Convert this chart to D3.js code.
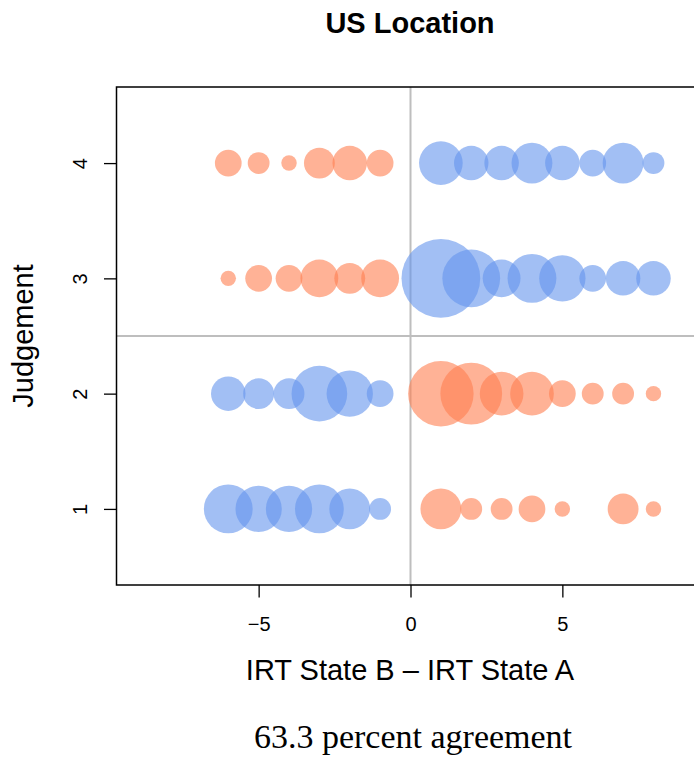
<!DOCTYPE html>
<html>
<head>
<meta charset="utf-8">
<script src="https://cdn.jsdelivr.net/npm/d3@7"></script>
<style>
  body { margin: 0; background: #fff; }
</style>
</head>
<body>
<div id="chart"></div>
<script>
// IRT score difference (State B - State A) on x, judgement category on y
const diffs = [-6, -5, -4, -3, -2, -1, 1, 2, 3, 4, 5, 6, 7, 8];
const judgements = [1, 2, 3, 4];
// number of cases at each difference, one array per judgement
const judge1 = [10, 9, 9, 10, 7, 2, 7, 2, 2, 3, 1, 0, 4, 1];
const judge2 = [5, 4, 4, 13, 9, 3, 18, 16, 8, 8, 3, 2, 2, 1];
const judge3 = [1, 3, 3, 6, 4, 6, 26, 14, 6, 10, 9, 3, 5, 5];
const judge4 = [3, 2, 1, 4, 5, 3, 8, 5, 5, 7, 5, 3, 7, 2];
const xTicks = [-5, 0, 5];

const width = 694, height = 759;
const plot = { left: 116.5, right: 704.5, top: 87, bottom: 585 };

const counts = [judge1, judge2, judge3, judge4];
const points = [];
judgements.forEach((j, i) => {
  diffs.forEach((d, k) => {
    const n = counts[i][k];
    if (n > 0) points.push({ x: d, y: j, n: n, agree: (j >= 3) === (d > 0) });
  });
});

const total = d3.sum(points, p => p.n);
const agreed = d3.sum(points.filter(p => p.agree), p => p.n);
const pct = (100 * agreed / total).toFixed(1);

const svg = d3.select("#chart").append("svg")
  .attr("width", width)
  .attr("height", height)
  .style("font-family", "'Liberation Sans', Arial, sans-serif");

const x = d3.scaleLinear().domain([-9.68, 9.68]).range([plot.left, plot.right]);
const y = d3.scaleLinear().domain([0.34, 4.66]).range([plot.bottom, plot.top]);
const maxN = d3.max(points, p => p.n);
const r = d3.scaleSqrt().domain([0, maxN]).range([0, 7.72 * Math.sqrt(maxN)]);

svg.append("defs").append("clipPath").attr("id", "plotclip")
  .append("rect")
  .attr("x", plot.left).attr("y", plot.top)
  .attr("width", plot.right - plot.left).attr("height", plot.bottom - plot.top);

// reference lines
svg.append("line")
  .attr("x1", x(0)).attr("x2", x(0))
  .attr("y1", plot.top).attr("y2", plot.bottom)
  .attr("stroke", "#bebebe").attr("stroke-width", 2);
svg.append("line")
  .attr("x1", plot.left).attr("x2", plot.right)
  .attr("y1", y(2.5)).attr("y2", y(2.5))
  .attr("stroke", "#bebebe").attr("stroke-width", 2);

// bubbles
svg.append("g").attr("clip-path", "url(#plotclip)")
  .selectAll("circle")
  .data(points)
  .join("circle")
  .attr("cx", d => x(d.x))
  .attr("cy", d => y(d.y))
  .attr("r", d => r(d.n))
  .attr("fill", d => d.agree ? "#6495ED" : "#FF7F50")
  .attr("fill-opacity", 0.6);

// box
svg.append("rect")
  .attr("x", plot.left).attr("y", plot.top)
  .attr("width", plot.right - plot.left).attr("height", plot.bottom - plot.top)
  .attr("fill", "none").attr("stroke", "#000").attr("stroke-width", 1.5);

// x axis
const xAxis = svg.append("g")
  .attr("transform", `translate(0,${plot.bottom})`)
  .call(d3.axisBottom(x).tickValues(xTicks).tickSize(12.5).tickPadding(19)
    .tickFormat(d => d < 0 ? "\u2212" + Math.abs(d) : d));
xAxis.select(".domain").remove();
xAxis.selectAll("line").attr("stroke-width", 1.3);
xAxis.selectAll("text").attr("font-size", 20).attr("font-family", null).attr("fill", "#000");

// y axis
const yAxis = svg.append("g")
  .attr("transform", `translate(${plot.left},0)`)
  .call(d3.axisLeft(y).tickValues(judgements).tickSize(12.5).tickFormat(d3.format("d")));
yAxis.select(".domain").remove();
yAxis.selectAll("line").attr("stroke-width", 1.3);
yAxis.selectAll("text")
  .attr("x", null).attr("dy", null)
  .attr("transform", "translate(-30,0) rotate(-90)")
  .attr("text-anchor", "middle")
  .attr("font-size", 20).attr("font-family", null).attr("fill", "#000");

// titles
svg.append("text")
  .attr("x", 410).attr("y", 33)
  .attr("text-anchor", "middle")
  .attr("font-size", 29).attr("font-weight", "bold")
  .text("US Location");

svg.append("text")
  .attr("x", 410).attr("y", 680)
  .attr("text-anchor", "middle")
  .attr("font-size", 29)
  .text("IRT State B \u2013 IRT State A");

svg.append("text")
  .attr("transform", `translate(33,${(plot.top + plot.bottom) / 2}) rotate(-90)`)
  .attr("text-anchor", "middle")
  .attr("font-size", 29)
  .text("Judgement");

svg.append("text")
  .attr("x", 413).attr("y", 748)
  .attr("text-anchor", "middle")
  .attr("font-size", 34)
  .attr("font-family", "'Liberation Serif', 'DejaVu Serif', serif")
  .text(`${pct} percent agreement`);
</script>
</body>
</html>
